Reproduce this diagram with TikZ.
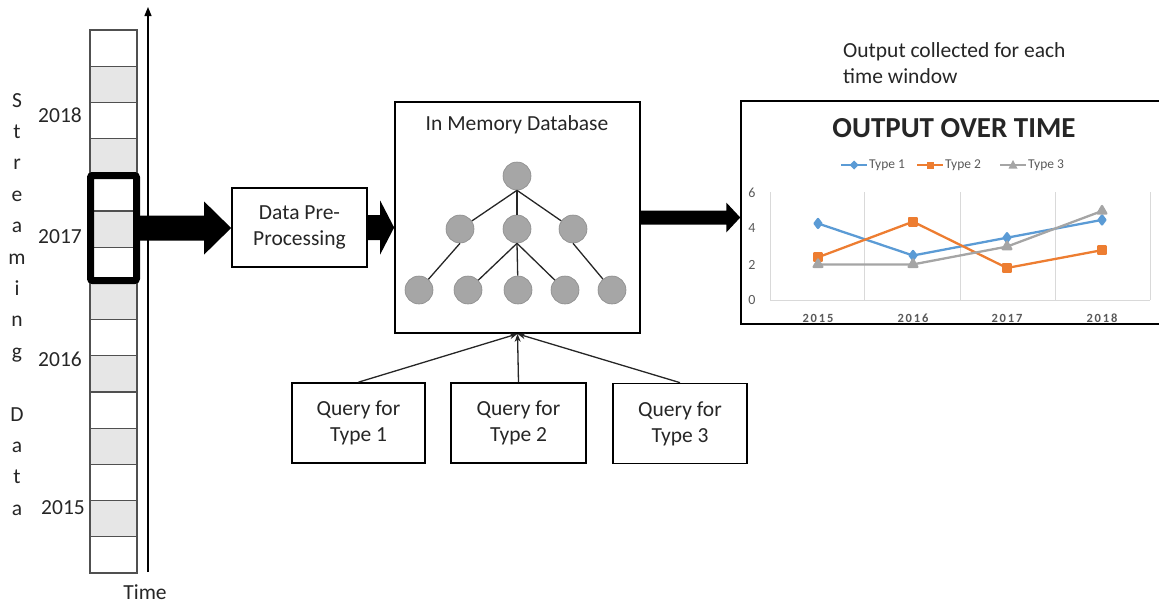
\documentclass[tikz,border=0pt]{standalone}
\usepackage{fontspec}
\setmainfont{Carlito}
\usetikzlibrary{arrows.meta,plotmarks,calc}

\definecolor{cellgray}{HTML}{E6E6E6}
\definecolor{cellline}{HTML}{505050}
\definecolor{nodegray}{HTML}{A6A6A6}
\definecolor{nodeedge}{HTML}{8C8C8C}
\definecolor{serA}{HTML}{5B9BD5}
\definecolor{serB}{HTML}{ED7D31}
\definecolor{serC}{HTML}{A5A5A5}
\definecolor{gridc}{HTML}{D9D9D9}
\definecolor{axtext}{HTML}{595959}
\definecolor{ink}{HTML}{262626}

% filled block arrow: start node anchor, end anchor, shaft half width, head half width, head length
\newcommand\fatarrow[5]{%
  \fill let \p1=(#1), \p2=(#2) in
    (\x1,\y1+#3) -- (\x2-#5,\y1+#3) -- (\x2-#5,\y1+#4) -- (\x2,\y1)
    -- (\x2-#5,\y1-#4) -- (\x2-#5,\y1-#3) -- (\x1,\y1-#3) -- cycle;}

\tikzset{
  lbl/.style={font=\fontsize{21.5}{26}\selectfont, text=ink, inner sep=0pt},
  box/.style={draw, line width=1.7pt, lbl, align=center},
  cell/.style={draw=cellline, line width=1.1pt, minimum width=47pt, minimum height=36.2pt, inner sep=0pt},
  window/.style={draw, line width=7pt, rounded corners=2pt, minimum width=46pt, minimum height=105pt, inner sep=0pt},
  treenode/.style={circle, fill=nodegray, draw=nodeedge, line width=0.6pt, minimum size=28pt, inner sep=0pt},
  treeedge/.style={line width=1.3pt, draw=ink},
  qarrow/.style={line width=1.3pt, draw=ink, -{Stealth[length=8pt,width=6pt]}},
  legtext/.style={font=\fontsize{13.5}{15}\selectfont, text=axtext, inner sep=0pt, anchor=west},
  ytick/.style={font=\fontsize{14}{16}\selectfont, text=axtext, inner sep=0pt},
  xtick/.style={font=\bfseries\fontsize{12.5}{14}\selectfont\addfontfeature{LetterSpace=15}, text=axtext, inner sep=0pt},
  series/.style={line width=2.3pt, line join=round},
}

\begin{document}
\begin{tikzpicture}[x=1pt,y=-1pt]
\useasboundingbox (0,0) rectangle (1159,603);

% ---- streaming data strip ----
\foreach \i in {0,...,14} {
  \pgfmathtruncatemacro\odd{mod(\i,2)}
  \ifnum\odd=1 \def\fc{cellgray}\else\def\fc{white}\fi
  \node[cell, fill=\fc] (cell\i) at (113.5, {48.1+36.2*\i}) {};
}
\node[window] (win) at (113.5,228) {};

% time axis
\coordinate (tbot) at (148,572);
\coordinate (ttop) at (148,7);
\draw[line width=1.2pt, -{Triangle[length=9pt,width=7pt]}] (tbot) -- (ttop);
\node[lbl] (timelbl) at (145,592) {Time};

% year labels
\node[lbl] (y2018) at (60,115) {2018};
\node[lbl] (y2017) at (60,237) {2017};
\node[lbl] (y2016) at (60,359) {2016};
\node[lbl] (y2015) at (63,508) {2015};

% vertical caption
\foreach \k/\ch in {0/S,1/t,2/r,3/e,4/a,5/m,6/i,7/n,8/g,10/D,11/a,12/t,13/a}
  \node[lbl, anchor=base] (sd\k) at (17,{107+31.4*\k}) {\ch};

% ---- processing blocks ----
\node[box, minimum width=135pt, minimum height=79pt] (pre) at (299.5,227.5) {Data Pre-\\Processing};
\node[box, minimum width=245pt, minimum height=231pt] (db) at (517.5,217.5) {};
\node[lbl] (dbtitle) at (517,125) {In Memory Database};

% tree inside the database
\node[treenode] (r)  at (517,176) {};
\node[treenode] (m1) at (460,229) {};
\node[treenode] (m2) at (517,229) {};
\node[treenode] (m3) at (573,229) {};
\node[treenode] (l1) at (419,290) {};
\node[treenode] (l2) at (468,290) {};
\node[treenode] (l3) at (518,290) {};
\node[treenode] (l4) at (565,290) {};
\node[treenode] (l5) at (612,290) {};
\foreach \c in {m1,m2,m3} \draw[treeedge] (r.south) -- (\c);
\draw[treeedge] (m1.south) -- (l1);
\foreach \c in {l2,l3,l4} \draw[treeedge] (m2.south) -- (\c);
\draw[treeedge] (m3.south) -- (l5);

% query boxes
\node[box, minimum width=133pt, minimum height=80pt] (q1) at (358.5,423) {Query for\\Type 1};
\node[box, minimum width=135pt, minimum height=80pt] (q2) at (518.5,423) {Query for\\Type 2};
\node[box, minimum width=134pt, minimum height=80pt] (q3) at (680,423.5) {Query for\\Type 3};
\foreach \q in {q1,q2,q3} \draw[qarrow] (\q.north) -- (db.south);

% ---- chart ----
\node[draw, line width=1.5pt, minimum width=440pt, minimum height=223pt, inner sep=0pt] (chart) at (961,212.5) {};
\node[lbl, anchor=west, align=left] (note) at (843,63.5) {Output collected for each\\time window};

% block arrows
\fatarrow{win.east}{$(win.east -| pre.west)$}{12.5}{26.5}{27}
\fatarrow{pre.east}{$(pre.east -| db.west)$}{12.5}{27}{14}
\fatarrow{db.east}{$(db.east -| chart.west)$}{7}{15}{14}

\node[font=\bfseries\fontsize{29}{32}\selectfont, text=ink, inner sep=0pt] (ctitle) at (954,128) {OUTPUT OVER TIME};

% legend
\draw[series, serA] (841,165) -- (867,165);
\fill[serA] (854,160.5) -- (858.5,165) -- (854,169.5) -- (849.5,165) -- cycle;
\node[legtext] (lg1) at (869,165) {Type 1};
\draw[series, serB] (917,165) -- (943,165);
\fill[serB] (926.5,161.5) rectangle (933.5,168.5);
\node[legtext] (lg2) at (945,165) {Type 2};
\draw[series, serC] (1000,165) -- (1026,165);
\fill[serC] (1013,160) -- (1017.5,168.5) -- (1008.5,168.5) -- cycle;
\node[legtext] (lg3) at (1028,165) {Type 3};

% grid and axes
\foreach \gx in {770,864,960,1055,1150} \draw[gridc, line width=0.8pt] (\gx,192) -- (\gx,300);
\draw[gridc, line width=1pt] (770,300) -- (1150,300);
\foreach \v/\yy in {0/300,2/265,4/228,6/193} \node[ytick] (yt\v) at (752,\yy) {\v};
\foreach \yr/\xx in {2015/818,2016/913,2017/1007,2018/1102} \node[xtick] (xt\yr) at (\xx,318) {\yr};

% data series
\begin{scope}[shift={(0,300)}, y=17.8pt]
  \draw[series, serA, mark=diamond*, mark size=4.5pt] plot coordinates {(818,4.3) (913,2.5) (1007,3.5) (1102,4.5)};
  \draw[series, serB, mark=square*, mark size=3.8pt] plot coordinates {(818,2.4) (913,4.4) (1007,1.8) (1102,2.8)};
  \draw[series, serC, mark=triangle*, mark size=5pt] plot coordinates {(818,2) (913,2) (1007,3) (1102,5)};
\end{scope}
\end{tikzpicture}
\end{document}
